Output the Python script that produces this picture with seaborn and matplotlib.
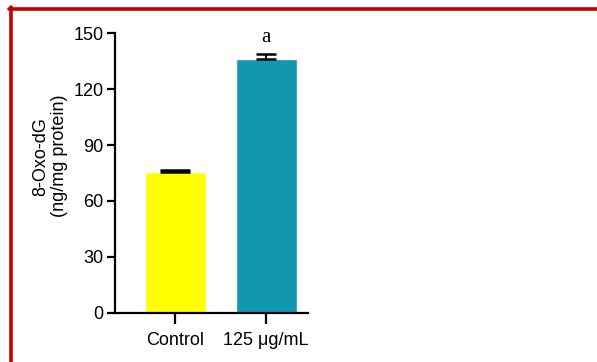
import matplotlib
matplotlib.use("Agg")
import matplotlib.pyplot as plt
import seaborn as sns
import pandas as pd

# Data
groups = ["Control", "125 μg/mL"]
means = [75.8, 135.9]
errors = [1.0, 2.8]
letters = ["", "a"]
colors = ["#ffff00", "#1297b1"]
yticks = [0, 30, 60, 90, 120, 150]

df = pd.DataFrame({"group": groups, "value": means})

sns.set_style("ticks")
plt.rcParams["font.family"] = ["Liberation Sans", "DejaVu Sans"]
plt.rcParams["text.color"] = "black"
plt.rcParams["axes.labelcolor"] = "black"
plt.rcParams["xtick.color"] = "black"
plt.rcParams["ytick.color"] = "black"
plt.rcParams["axes.edgecolor"] = "black"

fig = plt.figure(figsize=(5.97, 3.62), dpi=100)
ax = fig.add_axes([0.1926, 0.1354, 0.3234, 0.7734])

sns.barplot(data=df, x="group", y="value", hue="group", palette=colors,
            width=0.67, legend=False, ax=ax, saturation=1)

# upward error bars only
capsizes = [11, 7.5]
for i, (m, e) in enumerate(zip(means, errors)):
    ax.errorbar(i, m, yerr=[[0], [e]], fmt="none", ecolor="black",
                elinewidth=1.4, capsize=capsizes[i], capthick=1.8, zorder=3)
    if letters[i]:
        ax.text(i, m + e + 4, letters[i], ha="center", va="bottom",
                fontsize=15, family="Liberation Serif")

ax.set_xlim(-0.66, 1.46)
ax.set_ylim(0, 150)
ax.set_yticks(yticks)
ax.set_xlabel("")
ax.set_ylabel("8-Oxo-dG\n(ng/mg protein)", fontsize=13, linespacing=1.1)
ax.yaxis.set_label_coords(-0.245, 0.56)
sns.despine(ax=ax)
for s in ["left", "bottom"]:
    ax.spines[s].set_linewidth(1.6)
ax.tick_params(axis="y", length=6, width=1.6, labelsize=13, pad=2)
ax.tick_params(axis="x", length=8, width=1.6, labelsize=13, pad=6)

# red frame lines (top and left)
fig.add_artist(plt.Line2D([0.0152, 1.0], [0.9765, 0.9765], color="#c40000",
                          linewidth=2.6, transform=fig.transFigure))
fig.add_artist(plt.Line2D([0.0176, 0.0176], [0.0, 0.98], color="#c40000",
                          linewidth=2.6, transform=fig.transFigure))

fig.savefig("out.png", dpi=100)
